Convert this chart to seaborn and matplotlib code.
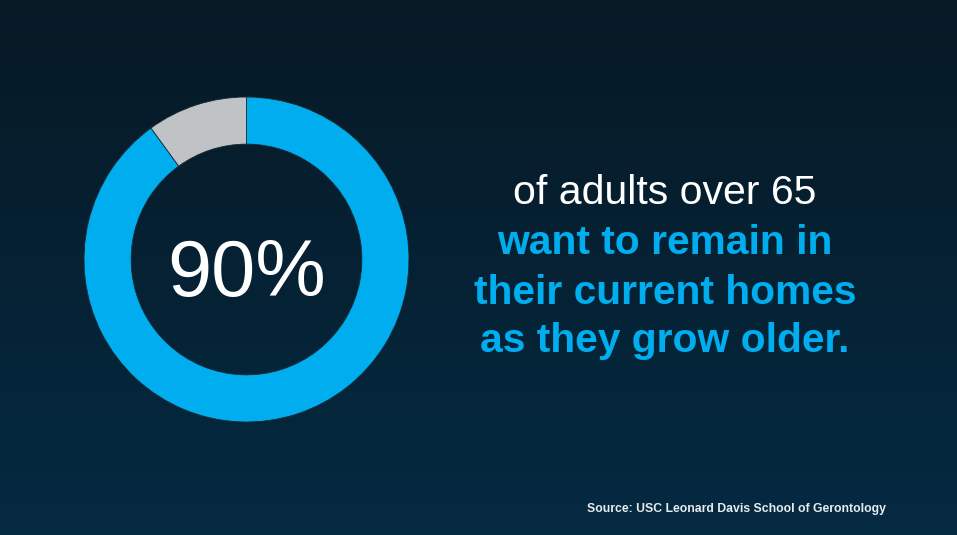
import numpy as np
import matplotlib
matplotlib.use("Agg")
import matplotlib.pyplot as plt
import seaborn as sns

# data
labels = ["Want to remain", "Other"]
shares = [90, 10]
slice_colors = ["#00AEEF", "#BFC3C5"]

headline = "90%"
line_top = "of adults over 65"
lines_blue = ["want to remain in", "their current homes", "as they grow older."]
source = "Source: USC Leonard Davis School of Gerontology"

sns.set_theme(style="white")
plt.rcParams["font.family"] = ["Liberation Sans", "DejaVu Sans"]

W, H = 957, 535
fig = plt.figure(figsize=(W / 100, H / 100), dpi=100)

# gradient background
bg = fig.add_axes([0, 0, 1, 1])
top = np.array([7, 25, 37]) / 255
bottom = np.array([4, 42, 66]) / 255
t = np.linspace(0, 1, 256)[:, None]
grad = top + (bottom - top) * t
bg.imshow(grad[:, None, :], aspect="auto", extent=[0, 1, 0, 1], origin="upper")
bg.set_axis_off()

# donut
cx, cy, r = 246.5, 259.5, 162.5
ax = fig.add_axes([(cx - r) / W, (H - cy - r) / H, 2 * r / W, 2 * r / H])
ax.pie(shares, colors=slice_colors, startangle=90, counterclock=False,
       radius=1, wedgeprops=dict(width=0.29, edgecolor="#1a2a33", linewidth=0.6))
ax.set_xlim(-1.0, 1.0)
ax.set_ylim(-1.0, 1.0)
ax.set_aspect("equal")
ax.set_axis_off()

def px(x, y):
    return x / W, 1 - y / H

fig.text(*px(247, 296), headline, color="white", fontsize=57,
         ha="center", va="baseline")

fig.text(*px(665, 204.5), line_top, color="white", fontsize=29.5,
         ha="center", va="baseline")
for i, s in enumerate(lines_blue):
    fig.text(*px(665, 254.5 + 49 * i), s, color="#00AEEF", fontsize=29.3,
             fontweight="bold", ha="center", va="baseline")

fig.text(*px(886, 512), source, color="#E8ECEF", fontsize=8.85,
         fontweight="bold", ha="right", va="baseline")

fig.savefig("out.png", dpi=100)
